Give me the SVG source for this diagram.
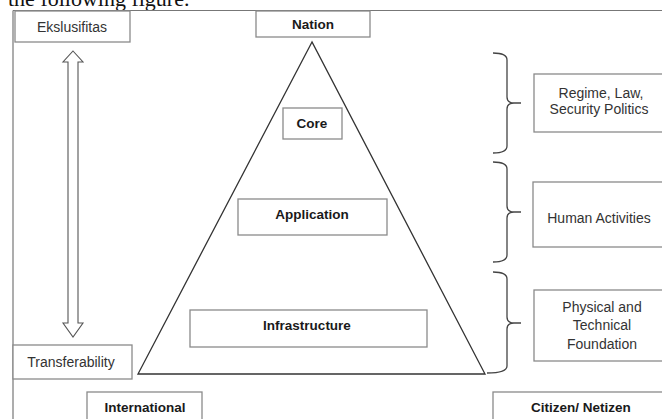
<svg xmlns="http://www.w3.org/2000/svg" width="662" height="419" viewBox="0 0 662 419">
<style>
.box{fill:#fff;stroke:#8a8a8a;stroke-width:1.3}
.frame{fill:none;stroke:#777;stroke-width:1.2}
.t{font-family:"Liberation Sans",Arial,sans-serif;font-size:14px;fill:#333;text-anchor:middle}
.b{font-family:"Liberation Sans",Arial,sans-serif;font-size:13.5px;font-weight:bold;fill:#1a1a1a;text-anchor:middle}
.brace{fill:none;stroke:#444;stroke-width:1.3}
</style>
<rect width="662" height="419" fill="#fff"/>
<text x="8" y="5.5" font-family="Liberation Serif,'Times New Roman',serif" font-size="22" fill="#111">the following figure.</text>
<g id="frame">
<path class="frame" d="M13,10.5 H662 M13,10.5 V419"/>
</g>
<g id="triangle">
<polygon points="312,42 138,374 485,374" fill="none" stroke="#333" stroke-width="1.3"/>
</g>
<g id="ekslusifitas"><rect class="box" x="15" y="11" width="115" height="31"/><text class="t" x="72" y="32">Ekslusifitas</text></g>
<g id="transferability"><rect class="box" x="13" y="345" width="119" height="34"/><text class="t" x="71" y="367">Transferability</text></g>
<g id="nation"><rect class="box" x="256" y="11" width="114" height="26"/><text class="b" x="313" y="29">Nation</text></g>
<g id="core"><rect class="box" x="283" y="108" width="59" height="31"/><text class="b" x="312" y="128">Core</text></g>
<g id="application"><rect class="box" x="238" y="199" width="149" height="36"/><text class="b" x="312" y="219">Application</text></g>
<g id="infrastructure"><rect class="box" x="190" y="310" width="237" height="37"/><text class="b" x="307" y="330">Infrastructure</text></g>
<g id="international"><rect class="box" x="87" y="392" width="115" height="30"/><text class="b" x="145" y="412">International</text></g>
<g id="citizen"><rect class="box" x="493" y="392" width="175" height="30"/><text class="b" x="581" y="412">Citizen/ Netizen</text></g>
<g id="regime"><rect class="box" x="534" y="74" width="132" height="58"/><text class="t" x="601" y="98">Regime, Law,</text><text class="t" x="599" y="114">Security Politics</text></g>
<g id="human"><rect class="box" x="533" y="182" width="133" height="65"/><text class="t" x="599" y="223">Human Activities</text></g>
<g id="physical"><rect class="box" x="534" y="290" width="132" height="71"/><text class="t" x="602" y="312">Physical and</text><text class="t" x="602" y="330">Technical</text><text class="t" x="602" y="349">Foundation</text></g>
<g id="connectors">
<polygon points="73,51 83,62 78,62 78,323 83,323 73,337 63,323 68,323 68,62 63,62" fill="#fff" stroke="#555" stroke-width="1.1"/>
<path class="brace" d="M493,53 Q507,53 507,60 L507,97 Q507,103 514,103 L521,103 M514,103 Q507,103 507,109 L507,146 Q507,153 493,153"/>
<path class="brace" d="M493,162 Q507,162 507,169 L507,206 Q507,212 514,212 L521,212 M514,212 Q507,212 507,218 L507,255 Q507,262 493,262"/>
<path class="brace" d="M493,272 Q507,272 507,279 L507,317 Q507,323 514,323 L521,323 M514,323 Q507,323 507,329 L507,366 Q507,373 487,373"/>
</g>
</svg>
